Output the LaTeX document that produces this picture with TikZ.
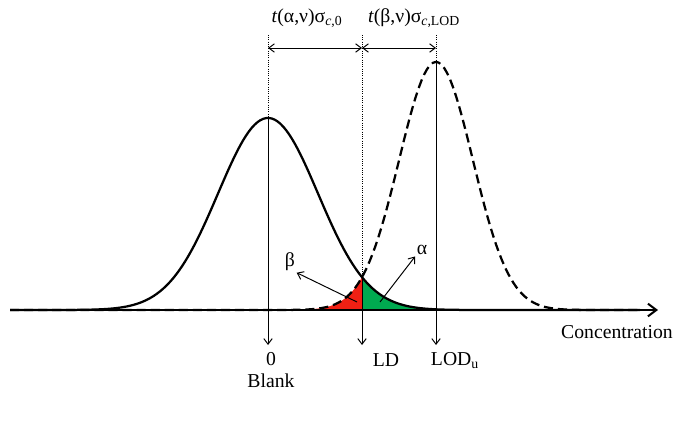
\documentclass[tikz,border=0pt]{standalone}
\usepackage{fontspec}
\setmainfont{Liberation Serif}
\usepackage{xcolor}
\usetikzlibrary{arrows.meta}

\definecolor{betared}{RGB}{240,32,20}
\definecolor{alphagreen}{RGB}{0,170,80}

\tikzset{
  curve/.style={line width=1.6pt},
  lodcurve/.style={line width=1.6pt,dash pattern=on 6.5pt off 3.5pt},
  guide/.style={line width=0.6pt,densely dotted},
  marker/.style={line width=0.7pt,->},
  lbl/.style={inner sep=1pt}
}

\begin{document}
\begin{tikzpicture}[x=0.025cm,y=-0.025cm,>={Straight Barb[length=4pt,width=6pt]},
  font=\fontsize{14}{15}\selectfont]
  \useasboundingbox (0,0) rectangle (675,427);

  % areas alpha and beta
  \fill[betared] (280,310) -- plot[domain=280:362,samples=60] (\x,{310-248*exp(-0.5*((\x-436)/36.8)*((\x-436)/36.8))}) -- (362,310) -- cycle;
  \fill[alphagreen] (362,310) -- plot[domain=362:480,samples=60] (\x,{310-192*exp(-0.5*((\x-268)/50)*((\x-268)/50))}) -- (480,310) -- cycle;

  % axis
  \coordinate (ax0) at (10,310);
  \coordinate (ax1) at (658,310);
  \draw[line width=1.4pt,-{Straight Barb[length=6pt,width=9pt]}] (ax0) -- (ax1);
  \node[lbl] (conc) at (617,332) {Concentration};

  % blank and LOD curves
  \draw[curve] plot[domain=10:640,samples=220] (\x,{310-192*exp(-0.5*((\x-268)/50)*((\x-268)/50))});
  \draw[lodcurve] plot[domain=10:640,samples=220] (\x,{310-248*exp(-0.5*((\x-436)/36.8)*((\x-436)/36.8))});

  % markers
  \coordinate (b0) at (268,35);  \coordinate (bpk) at (268,118); \coordinate (b1) at (268,345);
  \coordinate (d0) at (362,35);  \coordinate (dpk) at (362,277.2); \coordinate (d1) at (362,345);
  \coordinate (l0) at (436,35);  \coordinate (lpk) at (436,62);  \coordinate (l1) at (436,345);
  \draw[guide] (b0) -- (bpk);
  \draw[guide] (d0) -- (dpk);
  \draw[guide] (l0) -- (lpk);
  \draw[marker] (bpk) -- (b1);
  \draw[marker] (dpk) -- (d1);
  \draw[marker] (lpk) -- (l1);

  % distances
  \coordinate (m0) at (268,48); \coordinate (m1) at (362,48); \coordinate (m2) at (436,48);
  \draw[line width=0.7pt,<->] (m0) -- (m1);
  \draw[line width=0.7pt,<->] (m1) -- (m2);
  \node[lbl] (tal) at (307,18) {\textit{t}(α,ν)σ\textsubscript{\textit{c},0}};
  \node[lbl] (tbe) at (414,18) {\textit{t}(β,ν)σ\textsubscript{\textit{c},LOD}};

  % error labels
  \node[lbl] (beta) at (290,262) {β};
  \node[lbl] (alpha) at (422,250) {α};
  \coordinate (ba) at (357,302); \coordinate (aa) at (380,302);
  \draw[line width=0.7pt,->] (ba) -- (beta.south east);
  \draw[line width=0.7pt,->] (aa) -- (alpha.south west);

  % levels
  \node[lbl,align=center] (blank) at (271,370) {0\\[1pt]Blank};
  \node[lbl] (ld) at (386,360) {LD};
  \node[lbl] (lod) at (455,361) {LOD\textsubscript{u}};
\end{tikzpicture}
\end{document}
